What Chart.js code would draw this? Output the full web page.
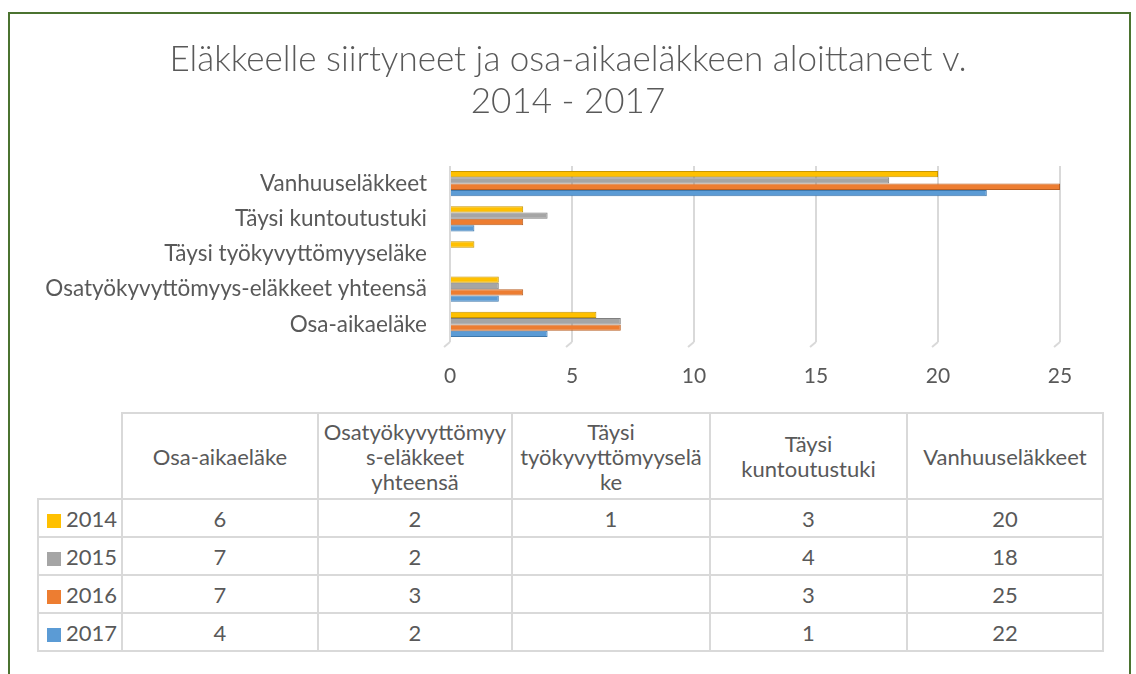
<!DOCTYPE html>
<html lang="fi">
<head>
<meta charset="utf-8">
<title>Eläkkeelle siirtyneet</title>
<script src="https://cdn.jsdelivr.net/npm/chart.js@4/dist/chart.umd.min.js"></script>
<style>
    html, body { margin: 0; padding: 0; background: #fff; }
    body { width: 1136px; height: 674px; position: relative; overflow: hidden; font-family: Lato, "Noto Sans", sans-serif; color: #595959; }
    #frame { position: absolute; left: 8px; top: 12px; width: 1123px; height: 700px; border: 2px solid #4b7330; box-sizing: border-box; }
    #chartBox { position: absolute; left: 0; top: 0; width: 1136px; height: 400px; }
    #dataTable { position: absolute; left: 37px; top: 412px; border-collapse: collapse; font-size: 22px; table-layout: fixed; }
    #dataTable td, #dataTable th { border: 2px solid #d9d9d9; text-align: center; font-weight: normal; padding: 0; line-height: 25px; white-space: nowrap; }
    #dataTable th { height: 84px; }
    #dataTable td { height: 36px; }
    #dataTable th.corner { border-top: none; border-left: none; }
    #dataTable td.year { text-align: left; padding-left: 8px; }
    .swatch { display: inline-block; width: 14px; height: 14px; margin-right: 5px; vertical-align: -1px; }
</style>
</head>
<body>
<div id="frame"></div>
<div id="chartBox"><canvas id="myChart" width="1136" height="400"></canvas></div>
<table id="dataTable"></table>
<script>
const categories = [
    "Osa-aikaeläke",
    "Osatyökyvyttömyys-eläkkeet yhteensä",
    "Täysi työkyvyttömyyseläke",
    "Täysi kuntoutustuki",
    "Vanhuuseläkkeet",
];
// otsikot taulukossa rivittyvät kuten Excelissä
const tableHeaders = [
    "Osa-aikaeläke",
    "Osatyökyvyttömyy<br>s-eläkkeet<br>yhteensä",
    "Täysi<br>työkyvyttömyyselä<br>ke",
    "Täysi<br>kuntoutustuki",
    "Vanhuuseläkkeet",
];
const years = ["2014", "2015", "2016", "2017"];
const values2014 = [6, 2, 1, 3, 20];
const values2015 = [7, 2, null, 4, 18];
const values2016 = [7, 3, null, 3, 25];
const values2017 = [4, 2, null, 1, 22];
const xTicks = [0, 5, 10, 15, 20, 25];

const seriesValues = [values2014, values2015, values2016, values2017];
const fills = ["#ffc000", "#a5a5a5", "#ed7d31", "#5b9bd5"];
const edges = ["#c79600", "#7f7f7f", "#b85f22", "#3f77aa"];
const colWidths = [84, 196, 194, 198, 197, 196];

function buildTable() {
    const table = document.getElementById("dataTable");
    const cols = colWidths.map((w) => `<col style="width:${w}px">`).join("");
    const head = `<tr><th class="corner"></th>${tableHeaders.map((h) => `<th>${h}</th>`).join("")}</tr>`;
    const rows = years.map((y, i) =>
        `<tr><td class="year"><span class="swatch" style="background:${fills[i]}"></span>${y}</td>` +
        seriesValues[i].map((v) => `<td>${v === null ? "" : v}</td>`).join("") +
        "</tr>"
    ).join("");
    table.innerHTML = `<colgroup>${cols}</colgroup>${head}${rows}`;
}

// pieni "3D" vino viiva ruudukon alapäähän
const gridFoot = {
    id: "gridFoot",
    afterDatasetsDraw(chart) {
        const { ctx, scales: { x }, chartArea } = chart;
        ctx.save();
        ctx.strokeStyle = "#d9d9d9";
        ctx.lineWidth = 2;
        for (const t of xTicks) {
            const px = x.getPixelForValue(t);
            ctx.beginPath();
            ctx.moveTo(px, chartArea.bottom);
            ctx.lineTo(px - 6, chartArea.bottom + 5);
            ctx.stroke();
        }
        ctx.restore();
    },
};

function main() {
    buildTable();
    const ctx = document.getElementById("myChart");
    const family = "Lato, 'Noto Sans', sans-serif";

    new Chart(ctx, {
        type: "bar",
        data: {
            labels: categories,
            datasets: years.map((y, i) => ({
                label: y,
                data: seriesValues[i],
                backgroundColor: fills[i],
                borderColor: edges[i],
                borderWidth: 1,
                categoryPercentage: 0.72,
                barPercentage: 1,
            })),
        },
        options: {
            indexAxis: "y",
            responsive: false,
            animation: false,
            layout: { padding: 0 },
            plugins: {
                legend: { display: false },
                tooltip: { enabled: false },
                title: {
                    display: true,
                    text: ["Eläkkeelle siirtyneet ja osa-aikaeläkkeen aloittaneet v.", "2014 - 2017"],
                    color: "#595959",
                    font: { family, size: 35, weight: "300", lineHeight: 1.2 },
                    padding: { top: 39, bottom: 43 },
                },
            },
            scales: {
                x: {
                    min: 0,
                    max: 25,
                    afterBuildTicks: (scale) => {
                        scale.ticks = xTicks.map((v) => ({ value: v }));
                    },
                    afterFit: (scale) => {
                        scale.height = 58;
                    },
                    grid: { color: "#d9d9d9", lineWidth: 2, drawTicks: false },
                    border: { display: false },
                    ticks: { color: "#595959", font: { family, size: 21 }, padding: 22 },
                },
                y: {
                    reverse: true,
                    afterFit: (scale) => {
                        scale.width = 450;
                    },
                    grid: { display: false, drawTicks: false },
                    border: { display: false },
                    ticks: { color: "#595959", font: { family, size: 22.5 }, padding: 23 },
                },
                // tyhjä akseli oikealle, jotta otsikko keskittyy koko leveydelle
                y2: {
                    position: "right",
                    afterFit: (scale) => {
                        scale.width = 76;
                    },
                    grid: { display: false, drawTicks: false },
                    border: { display: false },
                    ticks: { display: false },
                },
            },
        },
        plugins: [gridFoot],
    });
}

main();
</script>
</body>
</html>
